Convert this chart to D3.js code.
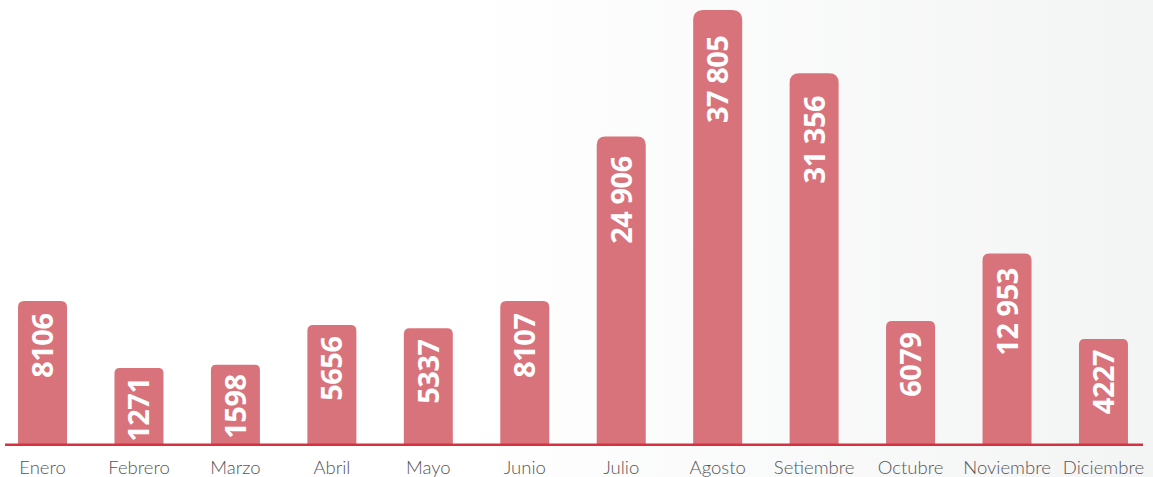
<!DOCTYPE html>
<html>
<head>
  <meta charset="utf-8">
  <title>Casos por mes</title>
  <style>
    html, body { margin: 0; padding: 0; background: #ffffff; }
    svg { display: block; }
  </style>
</head>
<body>
  <svg id="chart" width="1153" height="477"></svg>

  <script src="https://d3js.org/d3.v7.min.js"></script>
  <script>
    // datos
    const months = ["Enero", "Febrero", "Marzo", "Abril", "Mayo", "Junio",
                    "Julio", "Agosto", "Setiembre", "Octubre", "Noviembre", "Diciembre"];
    const values = [8106, 1271, 1598, 5656, 5337, 8107, 24906, 37805, 31356, 6079, 12953, 4227];
    const valueLabels = ["8106", "1271", "1598", "5656", "5337", "8107",
                         "24 906", "37 805", "31 356", "6079", "12 953", "4227"];

    const width = 1153, height = 477;
    const baseY = 444.5;

    const svg = d3.select("#chart");

    // fondo con degradado suave
    const defs = svg.append("defs");
    const grad = defs.append("linearGradient")
      .attr("id", "bg")
      .attr("x1", "0%").attr("x2", "100%")
      .attr("y1", "0%").attr("y2", "0%");
    grad.append("stop").attr("offset", "40%").attr("stop-color", "#ffffff");
    grad.append("stop").attr("offset", "100%").attr("stop-color", "#f3f4f4");
    svg.append("rect")
      .attr("width", width).attr("height", height)
      .attr("fill", "url(#bg)");

    // escalas
    const x = d3.scaleBand()
      .domain(months)
      .range([-5.7, 1151.7])
      .paddingInner(0.492)
      .paddingOuter(0.246);

    const y = d3.scaleLinear()
      .domain([0, d3.max(values)])
      .range([baseY - 64, 10]);

    const bw = x.bandwidth();

    // barras con esquinas superiores redondeadas
    function barPath(d) {
      const x0 = x(d.m), x1 = x0 + bw;
      const top = y(d.v);
      const h = baseY - top;
      const r = 4 + 0.015 * h;
      return `M${x0},${baseY} L${x0},${top + r} Q${x0},${top} ${x0 + r},${top} ` +
             `L${x1 - r},${top} Q${x1},${top} ${x1},${top + r} L${x1},${baseY} Z`;
    }

    const data = months.map((m, i) => ({ m: m, v: values[i], label: valueLabels[i] }));

    svg.append("g")
      .selectAll("path")
      .data(data)
      .join("path")
      .attr("d", barPath)
      .attr("fill", "#d9737b");

    // etiquetas de valor (rotadas)
    svg.append("g")
      .selectAll("text")
      .data(data)
      .join("text")
      .attr("transform", d => {
        const top = y(d.v);
        const h = baseY - top;
        const pad = 6 + 0.045 * h;
        const cx = x(d.m) + bw / 2 + 10.5;
        return `translate(${cx},${top + pad}) rotate(-90)`;
      })
      .attr("text-anchor", "end")
      .attr("font-family", "'Noto Sans', 'Open Sans', sans-serif")
      .attr("font-weight", 700)
      .attr("font-size", 29)
      .attr("letter-spacing", -0.5)
      .attr("fill", "#ffffff")
      .text(d => d.label);

    // línea base
    svg.append("line")
      .attr("x1", 5).attr("x2", 1143)
      .attr("y1", baseY + 0.3).attr("y2", baseY + 0.3)
      .attr("stroke", "#d7303e")
      .attr("stroke-width", 2.5);

    // meses
    const xAxis = d3.axisBottom(x).tickSize(0).tickPadding(0);
    const gX = svg.append("g")
      .attr("transform", `translate(0,${baseY})`)
      .call(xAxis);
    gX.select(".domain").remove();
    gX.selectAll("text")
      .attr("dy", null)
      .attr("y", 29)
      .attr("font-family", "Lato, 'Open Sans', sans-serif")
      .attr("font-weight", 300)
      .attr("font-size", 18.5)
      .attr("fill", "#555555");
  </script>
</body>
</html>
